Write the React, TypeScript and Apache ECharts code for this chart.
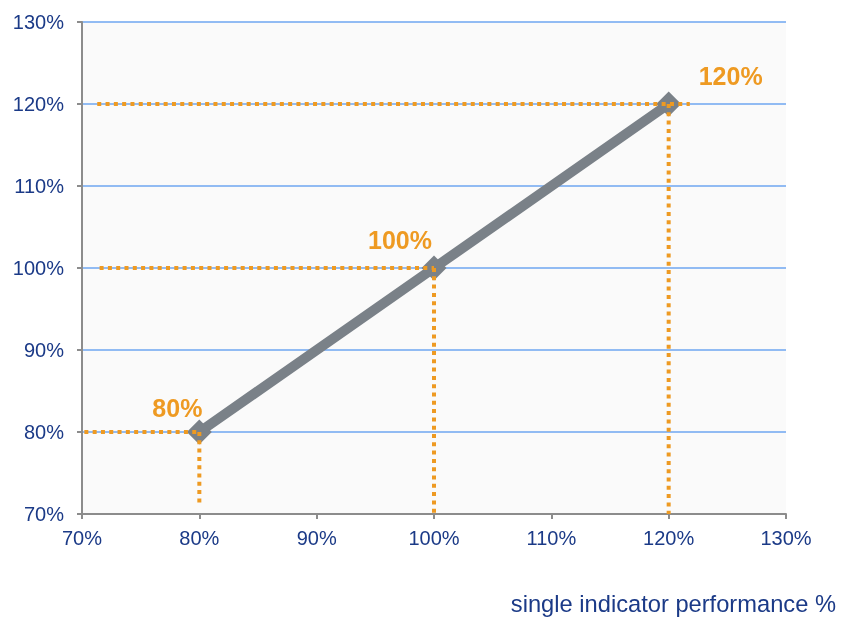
import React, { useEffect, useRef } from "react";
import * as echarts from "echarts";

const xTicks = [70, 80, 90, 100, 110, 120, 130];
const performance = [80, 100, 120];
const payout = [80, 100, 120];
const labelTexts = ["80%", "100%", "120%"];
// dotted guide lines: [start, end] in axis units
const hGuideStartX = [70.2, 71.5, 71.3];
const hGuideEndX = [80, 100, 121.8];
const vGuideEndY = [71.1, 70, 70];
const xAxisName = "single indicator performance %";

export default function App() {
  const ref = useRef<HTMLDivElement>(null);
  useEffect(() => {
    if (!ref.current) return;
    const chart = echarts.init(ref.current, undefined, { renderer: "svg" });
    const orange = "#EE9A22";
    const font = "Liberation Sans, Arial, sans-serif";
    const dotted = { color: orange, width: 4, type: [4, 4.3] as number[] };
    const guides: any[] = [];
    performance.forEach((p, i) => {
      guides.push({
        type: "line",
        data: [
          [hGuideStartX[i], payout[i]],
          [hGuideEndX[i], payout[i]],
        ],
        symbol: "none",
        lineStyle: dotted,
        z: 3,
        silent: true,
      });
      guides.push({
        type: "line",
        data: [
          [p, payout[i]],
          [p, vGuideEndY[i]],
        ],
        symbol: "none",
        lineStyle: dotted,
        z: 3,
        silent: true,
      });
    });
    const labelOffsets = [
      [-22, 6],
      [-34, 2],
      [62, 2],
    ];
    chart.setOption({
      animation: false,
      grid: {
        left: 82,
        right: 55,
        top: 22,
        bottom: 103,
        show: true,
        backgroundColor: "#FAFAFA",
        borderWidth: 0,
      },
      xAxis: {
        type: "value",
        min: 70,
        max: 130,
        interval: 10,
        axisLine: { show: true, lineStyle: { color: "#8C8C8C", width: 2 } },
        axisTick: { show: true, length: 5, lineStyle: { color: "#8C8C8C", width: 2 } },
        splitLine: { show: false },
        axisLabel: {
          formatter: (v: number) => v + "%",
          color: "#1B3A87",
          fontSize: 20,
          fontFamily: font,
          margin: 14,
        },
      },
      yAxis: {
        type: "value",
        min: 70,
        max: 130,
        interval: 10,
        axisLine: { show: true, lineStyle: { color: "#8C8C8C", width: 2 } },
        axisTick: { show: true, length: 5, lineStyle: { color: "#8C8C8C", width: 2 } },
        splitLine: { show: true, lineStyle: { color: "#6EA6F0", width: 1.5 } },
        axisLabel: {
          formatter: (v: number) => v + "%",
          color: "#1B3A87",
          fontSize: 20,
          fontFamily: font,
          margin: 18,
        },
      },
      graphic: [
        {
          type: "text",
          right: 5,
          top: 592,
          style: {
            text: xAxisName,
            fill: "#1B3A87",
            font: "23.7px Liberation Sans, Arial, sans-serif",
          },
        },
      ],
      series: [
        ...guides,
        {
          type: "line",
          data: performance.map((p, i) => ({
            value: [p, payout[i]],
            label: {
              show: true,
              position: "top",
              offset: labelOffsets[i],
              formatter: labelTexts[i],
            },
          })),
          symbol: "diamond",
          symbolSize: 25,
          lineStyle: { color: "#7A8188", width: 10 },
          itemStyle: { color: "#7A8188" },
          label: {
            color: orange,
            fontSize: 25,
            fontWeight: "bold",
            fontFamily: font,
          },
          z: 2,
        },
      ],
    });
    return () => chart.dispose();
  }, []);
  return (
    <div
      ref={ref}
      style={{ position: "fixed", left: 0, top: 0, width: 841, height: 617 }}
    />
  );
}
